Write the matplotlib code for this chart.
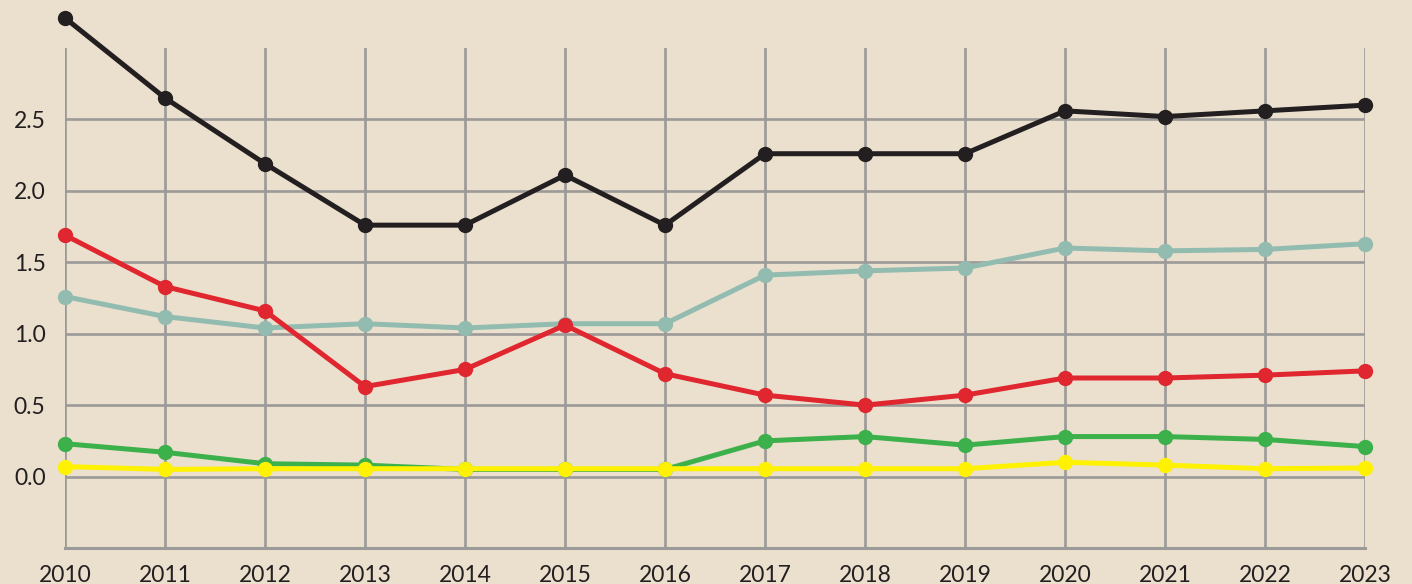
import matplotlib.pyplot as plt
import numpy as np

plt.rcParams['font.family'] = ['Lato', 'DejaVu Sans']

years = [2010, 2011, 2012, 2013, 2014, 2015, 2016,
         2017, 2018, 2019, 2020, 2021, 2022, 2023]

black = [3.21, 2.65, 2.19, 1.76, 1.76, 2.11, 1.76, 2.26, 2.26, 2.26, 2.56, 2.52, 2.56, 2.60]
teal = [1.26, 1.12, 1.04, 1.07, 1.04, 1.07, 1.07, 1.41, 1.44, 1.46, 1.60, 1.58, 1.59, 1.63]
red = [1.69, 1.33, 1.16, 0.63, 0.75, 1.06, 0.72, 0.57, 0.50, 0.57, 0.69, 0.69, 0.71, 0.74]
green = [0.23, 0.17, 0.09, 0.08, 0.05, 0.05, 0.05, 0.25, 0.28, 0.22, 0.28, 0.28, 0.26, 0.21]
yellow = [0.07, 0.05, 0.055, 0.055, 0.055, 0.055, 0.055, 0.055, 0.055, 0.055, 0.10, 0.08, 0.055, 0.06]

yticks = [0.0, 0.5, 1.0, 1.5, 2.0, 2.5]

bg = '#ebe0ce'
gridc = '#9b9a99'
txt = '#231f20'

fig = plt.figure(figsize=(14.12, 5.84), dpi=100, facecolor=bg)
ax = fig.add_axes([65 / 1412, 1 - 548 / 584, 1300 / 1412, 500 / 584])
ax.set_facecolor(bg)

ax.set_xlim(2010, 2023)
ax.set_ylim(-0.5, 3.0)

# grid: vertical lines per year, horizontal lines at ticks
for yr in years:
    ax.axvline(yr, color=gridc, lw=1.9, zorder=1)
for v in yticks:
    ax.axhline(v, color=gridc, lw=1.9, zorder=1)
ax.axhline(-0.5, color=gridc, lw=2.2, zorder=1, clip_on=False)

series = [(teal, '#93bcb1'), (red, '#e0262f'), (green, '#3cb04a'),
          (yellow, '#fff200'), (black, '#231f20')]
for i, (vals, col) in enumerate(series):
    ax.plot(years, vals, color=col, lw=3.6, marker='o', ms=10,
            clip_on=False, zorder=3 + i)

for s in ax.spines.values():
    s.set_visible(False)

ax.set_xticks(years)
ax.set_xticklabels([str(y) for y in years])
ax.set_yticks(yticks)
ax.set_yticklabels([f'{v:.1f}' for v in yticks])
ax.tick_params(axis='both', length=0, labelsize=16.5, colors=txt)
ax.tick_params(axis='x', pad=12)
ax.tick_params(axis='y', pad=14)

fig.savefig('out.png', dpi=100, facecolor=bg)
